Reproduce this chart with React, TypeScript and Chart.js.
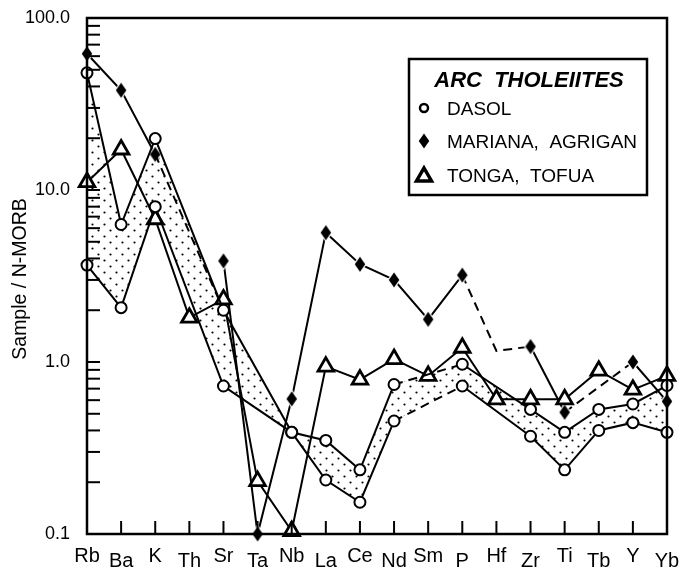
import React, { useEffect, useRef } from "react";
import { Chart, registerables } from "chart.js";

Chart.register(...registerables);

// ---- data ----
const elements = ["Rb", "Ba", "K", "Th", "Sr", "Ta", "Nb", "La", "Ce", "Nd", "Sm", "P", "Hf", "Zr", "Ti", "Tb", "Y", "Yb"];

const dasolHigh = [48, 6.3, 19.9, null, 2.0, null, 0.39, 0.35, 0.236, 0.74, null, 0.97, null, 0.53, 0.39, 0.53, 0.57, 0.73];
const dasolLow = [3.66, 2.07, 8.0, null, 0.725, null, 0.39, 0.206, 0.153, 0.454, null, 0.725, null, 0.37, 0.236, 0.4, 0.444, 0.39];
const dasolDashedFrom = [9];

const mariana = [62, 38, 16.1, null, 3.87, 0.1, 0.61, 5.65, 3.7, 3.0, 1.77, 3.2, 1.16, 1.23, 0.51, null, 1.0, 0.59];
const marianaDashedFrom = [11, 12, 14];
const marianaHiddenFrom = [2];
const marianaNoMarker = [12];
const marianaLink = [null, null, 16.1, null, 2.0, null, null, null, null, null, null, null, null, null, null, null, null, null];

const tonga = [11.1, 17.2, 6.76, 1.81, 2.31, 0.203, 0.104, 0.94, 0.79, 1.04, 0.83, 1.21, 0.607, 0.607, 0.607, 0.89, 0.69, 0.83];

const yTickValues = [100, 10, 1, 0.1];
const yTickLabels = ["100.0", "10.0", "1.0", "0.1"];
const yTitle = "Sample / N-MORB";
const legendTitle = "ARC  THOLEIITES";
const legendItems = ["DASOL", "MARIANA,  AGRIGAN", "TONGA,  TOFUA"];

const FONT = "'Liberation Sans', Arial, Helvetica, sans-serif";

const toPoints = (vals: (number | null)[]) =>
  vals.map((v, i) => (v == null ? null : { x: i, y: v })).filter((p) => p !== null) as { x: number; y: number }[];

const segStyle = (dashFrom: number[], hideFrom: number[] = []) => ({
  borderDash: (ctx: any) => (dashFrom.includes(ctx.p0.parsed.x) ? [9, 6] : undefined),
  borderColor: (ctx: any) => (hideFrom.includes(ctx.p0.parsed.x) ? "rgba(0,0,0,0)" : undefined),
});

function makeDiamond(w: number, h: number, halo: number) {
  const c = document.createElement("canvas");
  const W = Math.ceil(w + 2 * halo + 2);
  const H = Math.ceil(h + 2 * halo + 2);
  c.width = W;
  c.height = H;
  const g = c.getContext("2d")!;
  const cx = W / 2, cy = H / 2;
  const poly = (hw: number, hh: number, col: string) => {
    g.beginPath();
    g.moveTo(cx, cy - hh);
    g.lineTo(cx + hw, cy);
    g.lineTo(cx, cy + hh);
    g.lineTo(cx - hw, cy);
    g.closePath();
    g.fillStyle = col;
    g.fill();
  };
  poly(w / 2 + halo, h / 2 + halo * 1.4, "#fff");
  poly(w / 2, h / 2, "#000");
  return c;
}

function makePattern(ctx: CanvasRenderingContext2D) {
  const t = document.createElement("canvas");
  t.width = 12;
  t.height = 12;
  const g = t.getContext("2d")!;
  g.fillStyle = "#000";
  g.beginPath();
  g.arc(2.5, 2.5, 1.1, 0, Math.PI * 2);
  g.arc(8.5, 8.5, 1.1, 0, Math.PI * 2);
  g.fill();
  return ctx.createPattern(t, "repeat")!;
}

export default function App() {
  const ref = useRef<HTMLCanvasElement>(null);

  useEffect(() => {
    const canvas = ref.current!;
    const ctx0 = canvas.getContext("2d")!;
    const diamond = makeDiamond(10.5, 15, 1.5);
    const pattern = makePattern(ctx0);

    const decor = {
      id: "decor",
      beforeDraw(chart: any) {
        const c = chart.ctx;
        c.save();
        c.fillStyle = "#fff";
        c.fillRect(0, 0, chart.width, chart.height);
        c.restore();
      },
      afterDraw(chart: any) {
        const c: CanvasRenderingContext2D = chart.ctx;
        const a = chart.chartArea;
        const xs = chart.scales.x;
        const ys = chart.scales.y;
        c.save();
        c.strokeStyle = "#000";
        c.fillStyle = "#000";
        // frame
        c.lineWidth = 2.5;
        c.strokeRect(a.left, a.top, a.right - a.left, a.bottom - a.top);
        // y ticks (inward)
        c.lineWidth = 2;
        const tickLen = 13;
        for (let d = -1; d <= 1; d++) {
          for (let m = 1; m <= 9; m++) {
            const v = m * Math.pow(10, d);
            const y = ys.getPixelForValue(v);
            c.beginPath();
            c.moveTo(a.left, y);
            c.lineTo(a.left + tickLen, y);
            c.stroke();
          }
        }
        // x ticks (inward)
        for (let i = 1; i < elements.length - 1; i++) {
          const x = xs.getPixelForValue(i);
          c.beginPath();
          c.moveTo(x, a.bottom);
          c.lineTo(x, a.bottom - tickLen);
          c.stroke();
        }
        // y labels
        c.font = `18px ${FONT}`;
        c.textAlign = "right";
        c.textBaseline = "middle";
        yTickValues.forEach((v, i) => {
          c.fillText(yTickLabels[i], a.left - 17, ys.getPixelForValue(v) + 0.5);
        });
        // x labels (staggered)
        c.font = `20px ${FONT}`;
        c.textAlign = "center";
        c.textBaseline = "alphabetic";
        elements.forEach((e, i) => {
          const x = xs.getPixelForValue(i);
          c.fillText(e, x, a.bottom + (i % 2 === 0 ? 28 : 33));
        });
        // y title
        c.save();
        c.font = `19.5px ${FONT}`;
        c.translate(26, (a.top + a.bottom) / 2 + 3);
        c.rotate(-Math.PI / 2);
        c.textAlign = "center";
        c.fillText(yTitle, 0, 0);
        c.restore();
        // legend
        const lx = 409, ly = 59, lw = 238, lh = 136;
        c.fillStyle = "#fff";
        c.fillRect(lx, ly, lw, lh);
        c.fillStyle = "#000";
        c.lineWidth = 2.5;
        c.strokeRect(lx, ly, lw, lh);
        c.font = `italic bold 22px ${FONT}`;
        c.textAlign = "center";
        c.fillText(legendTitle, lx + lw / 2 + 1, 87);
        c.font = `19px ${FONT}`;
        c.textAlign = "left";
        const rows = [108, 141, 175];
        legendItems.forEach((t, i) => {
          c.fillText(t, 447, rows[i] + 7);
        });
        const mx = 424;
        // circle
        c.lineWidth = 2.5;
        c.beginPath();
        c.arc(mx, rows[0], 4, 0, Math.PI * 2);
        c.stroke();
        // diamond
        c.drawImage(diamond, mx - diamond.width / 2, rows[1] - diamond.height / 2);
        // triangle
        c.lineWidth = 3.5;
        c.lineJoin = "miter";
        c.beginPath();
        c.moveTo(mx, rows[2] - 7);
        c.lineTo(mx + 7.5, rows[2] + 6);
        c.lineTo(mx - 7.5, rows[2] + 6);
        c.closePath();
        c.fillStyle = "#fff";
        c.fill();
        c.stroke();
        c.restore();
      },
    };

    const base = {
      borderColor: "#000",
      borderWidth: 2,
      pointBorderColor: "#000",
      pointBackgroundColor: "#fff",
      clip: false as any,
      tension: 0,
    };

    const chart = new Chart(canvas, {
      type: "line",
      data: {
        datasets: [
          {
            ...base,
            label: "DASOL high",
            data: toPoints(dasolHigh),
            pointStyle: "circle",
            pointRadius: 5.5,
            pointBorderWidth: 2,
            fill: false,
            segment: segStyle(dasolDashedFrom),
          },
          {
            ...base,
            label: "DASOL low",
            data: toPoints(dasolLow),
            pointStyle: "circle",
            pointRadius: 5.5,
            pointBorderWidth: 2,
            backgroundColor: pattern as any,
            fill: "-1",
            segment: segStyle(dasolDashedFrom),
          },
          {
            ...base,
            label: "TONGA, TOFUA",
            data: toPoints(tonga),
            pointStyle: "triangle",
            pointRadius: 9,
            pointBorderWidth: 2.8,
            fill: false,
          },
          {
            ...base,
            label: "MARIANA link",
            data: toPoints(marianaLink),
            pointRadius: 0,
            borderDash: [9, 6],
            fill: false,
          },
          {
            ...base,
            label: "MARIANA, AGRIGAN",
            data: toPoints(mariana),
            pointStyle: diamond as any,
            pointRadius: (ctx: any) => (marianaNoMarker.includes(ctx.raw?.x) ? 0 : 6),
            fill: false,
            segment: segStyle(marianaDashedFrom, marianaHiddenFrom),
          },
        ],
      },
      options: {
        responsive: false,
        animation: false,
        events: [],
        layout: { autoPadding: false, padding: { left: 87, top: 18, right: 14, bottom: 37 } },
        scales: {
          x: { type: "linear", min: 0, max: elements.length - 1, display: false },
          y: { type: "logarithmic", min: 0.1, max: 100, display: false },
        },
        plugins: {
          legend: { display: false },
          tooltip: { enabled: false },
          filler: { drawTime: "beforeDatasetsDraw" },
        } as any,
      },
      plugins: [decor],
    });

    return () => chart.destroy();
  }, []);

  return (
    <div style={{ position: "absolute", left: 0, top: 0, width: 681, height: 571, background: "#fff" }}>
      <canvas ref={ref} width={681} height={571} style={{ display: "block", width: 681, height: 571 }} />
    </div>
  );
}
